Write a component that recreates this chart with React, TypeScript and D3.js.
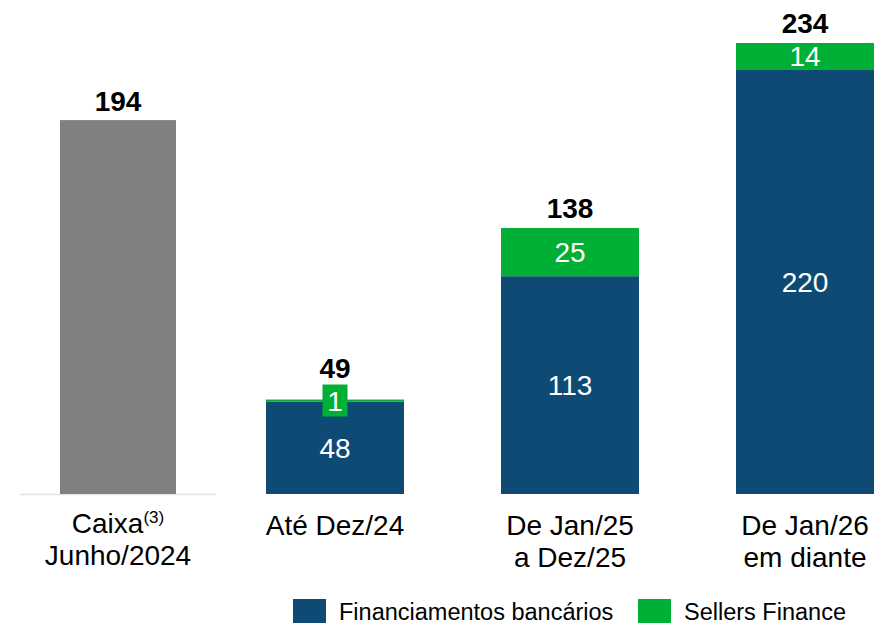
import React from "react";
import * as d3 from "d3";

const categories = ["Até Dez/24", "De Jan/25\na Dez/25", "De Jan/26\nem diante"];
const bancarios = [48, 113, 220];
const sellers = [1, 25, 14];
const cashCategory = "Caixa";
const cashSub = "Junho/2024";
const cashNote = "(3)";
const cashValue = [194];
const legendLabels = ["Financiamentos bancários", "Sellers Finance"];

const W = 895;
const H = 626;
const BLUE = "#0E4A73";
const GREEN = "#00AF35";
const GRAY = "#808080";
const FONT = "'Liberation Sans', Arial, Helvetica, sans-serif";

export default function App() {
  const y = d3.scaleLinear().domain([0, 234]).range([494, 43]);
  const x = d3
    .scaleBand<string>()
    .domain(categories)
    .range([217.5, 922.5])
    .paddingInner(0.4128)
    .paddingOuter(0.2064);
  const xc = d3
    .scaleBand<string>()
    .domain([cashCategory])
    .range([20, 216])
    .paddingInner(0)
    .paddingOuter(40 / 116);

  const rows = categories.map((c, i) => ({ cat: c, bancarios: bancarios[i], sellers: sellers[i] }));
  const stack = d3.stack<any>().keys(["bancarios", "sellers"])(rows);
  const colors = [BLUE, GREEN];

  const cx = xc(cashCategory)!;
  const cw = xc.bandwidth();
  const bw = x.bandwidth();

  return (
    <svg width={W} height={H} style={{ position: "absolute", left: 0, top: 0, background: "#fff" }} fontFamily={FONT}>
      {/* baseline under cash bar */}
      <line x1={xc.range()[0]} x2={xc.range()[1]} y1={y(0) + 0.5} y2={y(0) + 0.5} stroke="#E3E3E3" strokeWidth={1.5} />
      {/* cash bar */}
      <rect x={cx} y={y(cashValue[0])} width={cw} height={y(0) - y(cashValue[0])} fill={GRAY} />
      <text x={cx + cw / 2} y={y(cashValue[0]) - 9} textAnchor="middle" fontSize={28} fontWeight="bold" fill="#000">
        {cashValue[0]}
      </text>
      <text x={cx + cw / 2} y={533} textAnchor="middle" fontSize={28} fill="#000">
        {cashCategory}
        <tspan fontSize={17} dy={-10}>{cashNote}</tspan>
      </text>
      <text x={cx + cw / 2} y={565} textAnchor="middle" fontSize={28} fill="#000">
        {cashSub}
      </text>

      {/* stacked bars */}
      {stack.map((layer, li) =>
        layer.map((d, i) => {
          const cat = categories[i];
          const x0 = x(cat)!;
          const top = y(d[1]);
          const bot = y(d[0]);
          const v = d[1] - d[0];
          const small = bot - top < 20;
          return (
            <g key={`${li}-${i}`}>
              <rect x={x0} y={top} width={bw} height={bot - top} fill={colors[li]} />
              {small ? (
                <g>
                  <rect x={x0 + bw / 2 - 12.5} y={(top + bot) / 2 - 16} width={25} height={32} fill={colors[li]} />
                  <text x={x0 + bw / 2} y={(top + bot) / 2 + 10} textAnchor="middle" fontSize={28} fill="#fff">
                    {v}
                  </text>
                </g>
              ) : (
                <text x={x0 + bw / 2} y={(top + bot) / 2 + 10} textAnchor="middle" fontSize={28} fill="#fff">
                  {v}
                </text>
              )}
            </g>
          );
        })
      )}

      {/* totals and category labels */}
      {rows.map((r, i) => {
        const total = r.bancarios + r.sellers;
        const c = x(r.cat)! + bw / 2;
        const lines = r.cat.split("\n");
        return (
          <g key={r.cat}>
            <text x={c} y={y(total) - (i === 0 ? 22 : 10)} textAnchor="middle" fontSize={28} fontWeight="bold" fill="#000">
              {total}
            </text>
            {lines.map((ln, j) => (
              <text key={j} x={c} y={535 + j * 32} textAnchor="middle" fontSize={28} fill="#000">
                {ln}
              </text>
            ))}
          </g>
        );
      })}

      {/* legend */}
      {legendLabels.map((l, i) => {
        const lx = [293, 638][i];
        return (
          <g key={l}>
            <rect x={lx} y={599} width={33} height={24} fill={colors[i]} />
            <text x={lx + 46} y={620} fontSize={23.5} fill="#000">
              {l}
            </text>
          </g>
        );
      })}
    </svg>
  );
}
